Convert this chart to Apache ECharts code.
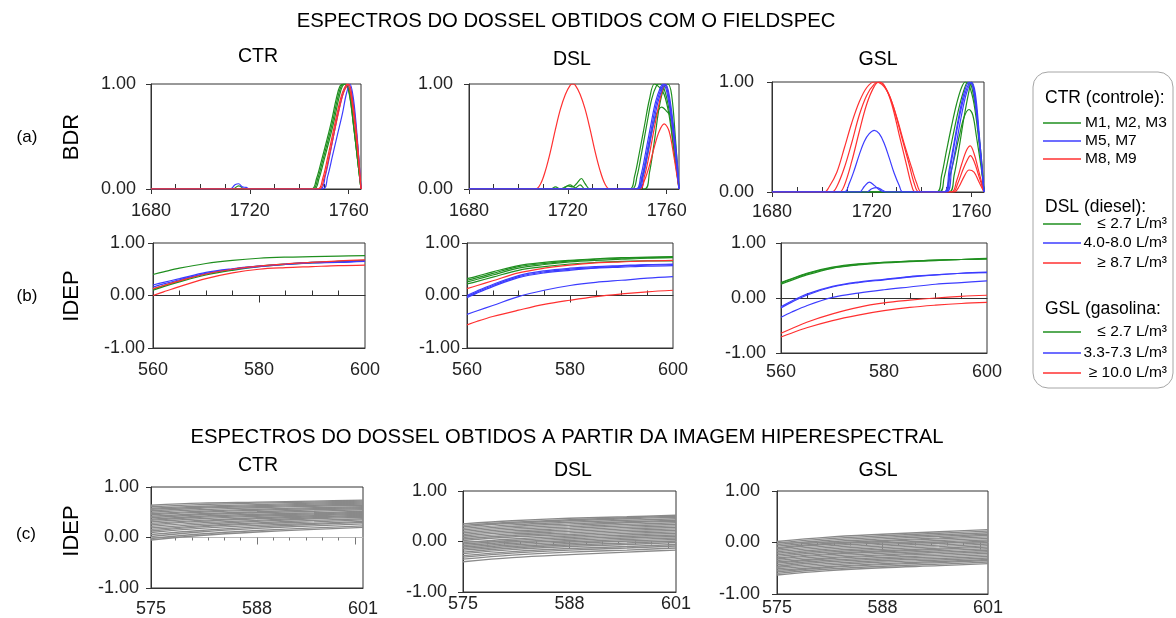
<!DOCTYPE html>
<html><head><meta charset="utf-8">
<script src="https://cdn.jsdelivr.net/npm/echarts@6/dist/echarts.min.js"></script>
<style>html,body{margin:0;padding:0;background:#fff}#c{width:1176px;height:618px}</style>
</head><body><div id="c"></div>
<script>
// ---------- tick labels ----------
const BDR_X_LABELS = [1680, 1720, 1760];
const BDR_X_MINOR = [1690, 1700, 1710, 1730, 1740, 1750];
const FS_X_LABELS = [560, 580, 600];
const FS_X_MINOR = [565, 570, 575, 585, 590, 595];
const FS_X_MAJOR = [580];
const HS_X_LABELS = [575, 588, 601];
const HS_X_MINOR = [578, 580, 582, 584, 586, 590, 592, 594, 596, 598];
const HS_X_MAJOR = [588, 600];

// ---------- (a) BDR, FieldSpec : [wavelength, BDR] ----------
const bdrCtrGreen = [
  [[1680,0],[1745,0],[1747,0.1],[1749,0.27],[1751,0.45],[1753,0.64],[1755,0.86],[1756.5,0.98],[1758,1.0],[1760,0.93],[1762,0.6],[1764,0.2],[1765,0]],
  [[1680,0],[1713,0],[1715.5,0.03],[1718,0],[1745.5,0],[1747.5,0.1],[1749.5,0.27],[1751.5,0.45],[1753.5,0.64],[1755.5,0.86],[1757,0.98],[1758.5,1.0],[1760,0.95],[1762,0.6],[1764,0.2],[1765,0]],
  [[1680,0],[1746,0],[1748,0.1],[1750,0.27],[1752,0.45],[1754,0.64],[1756,0.86],[1757.5,0.98],[1759,1.0],[1760.5,0.93],[1762,0.62],[1764,0.2],[1765,0]]
];
const bdrCtrBlue = [
  [[1680,0],[1749.5,0],[1751.5,0.12],[1753.5,0.32],[1755.5,0.52],[1757.5,0.72],[1759,0.9],[1760.5,1.0],[1762,0.85],[1763.5,0.48],[1765,0]],
  [[1680,0],[1712,0],[1714,0.04],[1715.5,0.05],[1717,0.02],[1718.5,0.015],[1720,0],[1748.5,0],[1750.5,0.12],[1752.5,0.34],[1754.5,0.58],[1756.5,0.8],[1758.5,0.96],[1760,1.0],[1761.5,0.88],[1763.5,0.45],[1765,0]]
];
const bdrCtrRed = [
  [[1680,0],[1747.5,0],[1749.5,0.1],[1751.5,0.3],[1753.5,0.52],[1755.5,0.74],[1757.5,0.92],[1759.5,1.0],[1761,0.88],[1763,0.5],[1765,0]],
  [[1680,0],[1748,0],[1750,0.1],[1752,0.3],[1754,0.52],[1756,0.74],[1758,0.92],[1760,1.0],[1761.5,0.85],[1763.5,0.45],[1765,0]]
];
const bdrDslGreen = [
  [[1680,0],[1745,0],[1747,0.12],[1749,0.35],[1751,0.6],[1753,0.85],[1755,1.0],[1757,0.97],[1759,0.9],[1761,0.7],[1763,0.35],[1765,0]],
  [[1680,0],[1713,0],[1715,0.02],[1717,0],[1719,0.02],[1721,0.04],[1723,0.01],[1725,0.04],[1727,0],[1746,0],[1748,0.12],[1750,0.36],[1752,0.62],[1754,0.86],[1756,0.99],[1757,1.0],[1759,0.95],[1761,0.75],[1763,0.38],[1765,0]],
  [[1680,0],[1718,0],[1720,0.03],[1722,0.02],[1723.5,0.05],[1725.5,0.1],[1727,0.05],[1729,0],[1748,0],[1750,0.1],[1752,0.3],[1754,0.55],[1756,0.72],[1758,0.78],[1760,0.74],[1762,0.68],[1763.5,0.4],[1765,0]],
  [[1680,0],[1751,0],[1753,0.15],[1755,0.45],[1757,0.78],[1759,0.97],[1760.5,1.0],[1762,0.9],[1763.5,0.5],[1765,0]]
];
const bdrDslBlue = [
  [[1680,0],[1747.5,0],[1749.5,0.12],[1751.5,0.35],[1753.5,0.6],[1755.5,0.83],[1757.5,0.97],[1758.5,1.0],[1760,0.93],[1762,0.65],[1764,0.25],[1765,0]],
  [[1680,0],[1748,0],[1750,0.12],[1752,0.35],[1754,0.6],[1756,0.83],[1758,0.97],[1759,1.0],[1760.5,0.92],[1762.5,0.6],[1764,0.25],[1765,0]],
  [[1680,0],[1748.5,0],[1750.5,0.12],[1752.5,0.35],[1754.5,0.6],[1756.5,0.83],[1758.5,0.97],[1759.5,1.0],[1761,0.9],[1763,0.55],[1764.5,0.2],[1765,0]]
];
const bdrDslRed = [
  [[1680,0],[1707,0],[1709,0.05],[1711,0.18],[1713,0.36],[1715,0.57],[1717,0.76],[1719,0.9],[1721,0.99],[1722,1.0],[1723,0.99],[1725,0.9],[1727,0.76],[1729,0.57],[1731,0.36],[1733,0.18],[1735,0.05],[1737,0],[1749,0],[1751,0.08],[1753,0.22],[1755,0.4],[1757,0.55],[1759,0.62],[1761,0.55],[1763,0.3],[1765,0]],
  [[1680,0],[1749,0],[1751,0.12],[1753,0.33],[1755,0.58],[1757,0.82],[1758.5,0.96],[1759.5,1.0],[1761,0.85],[1763,0.45],[1765,0]]
];
const bdrGslGreen = [
  [[1680,0],[1746,0],[1748,0.15],[1750,0.38],[1752,0.6],[1754,0.8],[1756,0.95],[1757.5,1.0],[1759,0.97],[1761,0.8],[1763,0.45],[1765,0]],
  [[1680,0],[1747,0],[1749,0.13],[1751,0.34],[1753,0.56],[1755,0.77],[1757,0.93],[1758.5,1.0],[1760,0.96],[1762,0.7],[1764,0.3],[1765,0]],
  [[1680,0],[1749,0],[1751,0.12],[1753,0.3],[1755,0.5],[1757,0.68],[1759,0.75],[1760.5,0.7],[1762,0.5],[1764,0.2],[1765,0]],
  [[1680,0],[1751,0],[1753,0.15],[1755,0.4],[1757,0.68],[1759,0.92],[1760,1.0],[1761.5,0.85],[1763,0.5],[1765,0]]
];
const bdrGslBlue = [
  [[1680,0],[1709,0],[1711,0.08],[1713,0.2],[1715,0.34],[1717,0.46],[1719,0.53],[1721,0.56],[1723,0.53],[1725,0.44],[1727,0.31],[1729,0.17],[1731,0.06],[1732.5,0],[1749,0],[1751,0.2],[1753,0.45],[1755,0.7],[1757,0.9],[1759,1.0],[1760.5,0.96],[1762.5,0.6],[1764,0.25],[1765,0]],
  [[1680,0],[1715,0],[1717,0.05],[1719,0.09],[1721,0.06],[1723,0.02],[1725,0],[1749.5,0],[1751.5,0.22],[1753.5,0.48],[1755.5,0.72],[1757.5,0.9],[1759.5,1.0],[1761,0.92],[1763,0.5],[1765,0]],
  [[1680,0],[1718,0],[1720,0.03],[1722,0.04],[1724,0.02],[1726,0],[1750,0],[1752,0.2],[1754,0.45],[1756,0.7],[1758,0.9],[1760,1.0],[1761.5,0.9],[1763,0.55],[1765,0]]
];
const bdrGslRed = [
  [[1680,0],[1701,0],[1703,0.05],[1706,0.18],[1709,0.4],[1712,0.63],[1715,0.82],[1718,0.95],[1721,1.0],[1724,0.98],[1727,0.88],[1730,0.68],[1733,0.44],[1736,0.22],[1738,0.08],[1740,0],[1752,0],[1754,0.1],[1756,0.25],[1758,0.38],[1759.5,0.42],[1761,0.35],[1763,0.18],[1765,0]],
  [[1680,0],[1704,0],[1706,0.05],[1709,0.22],[1712,0.45],[1715,0.7],[1718,0.88],[1721,0.98],[1723,1.0],[1726,0.93],[1729,0.75],[1732,0.5],[1735,0.25],[1737,0.08],[1739,0],[1752.5,0],[1754.5,0.08],[1756.5,0.2],[1758.5,0.3],[1759.5,0.33],[1761,0.28],[1763,0.14],[1765,0]],
  [[1680,0],[1707,0],[1709,0.06],[1712,0.28],[1715,0.55],[1718,0.8],[1721,0.96],[1723,1.0],[1725,0.97],[1728,0.8],[1731,0.52],[1734,0.24],[1736,0.06],[1737.5,0],[1753,0],[1755,0.05],[1757,0.14],[1759,0.2],[1761,0.18],[1763,0.09],[1765,0]]
];

// ---------- (b) IDEP, FieldSpec ----------
const FS_X = [560, 562, 565, 570, 575, 580, 585, 590, 595, 600];
const idepCtrGreen = [
  [0.40,0.45,0.52,0.61,0.67,0.71,0.73,0.74,0.75,0.76],
  [0.12,0.19,0.28,0.41,0.50,0.56,0.60,0.63,0.65,0.67],
  [0.10,0.17,0.26,0.39,0.48,0.55,0.59,0.62,0.64,0.66]
];
const idepCtrBlue = [
  [0.20,0.25,0.32,0.44,0.51,0.56,0.60,0.63,0.64,0.66],
  [0.16,0.22,0.30,0.42,0.50,0.55,0.59,0.62,0.63,0.65]
];
const idepCtrRed = [
  [0.13,0.19,0.28,0.41,0.50,0.56,0.60,0.63,0.66,0.68],
  [0.00,0.07,0.17,0.32,0.43,0.50,0.53,0.55,0.57,0.58]
];
const idepDslGreen = [
  [0.32,0.37,0.45,0.57,0.63,0.67,0.70,0.72,0.73,0.74],
  [0.29,0.34,0.42,0.55,0.61,0.66,0.69,0.71,0.72,0.73],
  [0.26,0.31,0.39,0.52,0.59,0.64,0.67,0.69,0.71,0.72],
  [0.22,0.27,0.35,0.48,0.55,0.60,0.63,0.65,0.66,0.66]
];
const idepDslBlue = [
  [-0.02,0.07,0.19,0.36,0.45,0.50,0.53,0.56,0.58,0.59],
  [-0.04,0.05,0.17,0.34,0.43,0.48,0.52,0.54,0.56,0.57],
  [0.00,0.09,0.21,0.38,0.47,0.52,0.55,0.57,0.59,0.60],
  [-0.36,-0.29,-0.19,-0.02,0.10,0.19,0.25,0.29,0.33,0.36]
];
const idepDslRed = [
  [0.13,0.19,0.28,0.43,0.52,0.58,0.62,0.64,0.66,0.67],
  [-0.56,-0.49,-0.40,-0.28,-0.17,-0.09,-0.02,0.03,0.07,0.10]
];
const idepGslGreen = [
  [0.28,0.35,0.45,0.56,0.62,0.65,0.67,0.69,0.70,0.71],
  [0.25,0.32,0.42,0.54,0.60,0.64,0.66,0.68,0.70,0.71],
  [0.27,0.34,0.44,0.55,0.61,0.65,0.67,0.69,0.70,0.72]
];
const idepGslBlue = [
  [-0.18,-0.08,0.05,0.20,0.28,0.33,0.38,0.42,0.45,0.47],
  [-0.16,-0.06,0.07,0.21,0.29,0.34,0.39,0.42,0.45,0.46],
  [-0.35,-0.26,-0.14,0.01,0.09,0.15,0.20,0.25,0.28,0.31]
];
const idepGslRed = [
  [-0.64,-0.56,-0.44,-0.29,-0.17,-0.09,-0.04,0.00,0.03,0.05],
  [-0.71,-0.64,-0.54,-0.41,-0.31,-0.23,-0.17,-0.13,-0.10,-0.08]
];

// ---------- (c) IDEP, hyperspectral image ----------
const HS_X = [575, 581, 588, 595, 601];
const hsCtr = [
  [0.64,0.68,0.70,0.72,0.74],[0.61,0.65,0.68,0.70,0.72],[0.58,0.62,0.65,0.68,0.70],[0.56,0.60,0.63,0.66,0.68],
  [0.53,0.58,0.61,0.64,0.66],[0.50,0.55,0.59,0.62,0.64],[0.47,0.52,0.56,0.59,0.61],[0.45,0.50,0.54,0.57,0.59],
  [0.42,0.47,0.51,0.55,0.57],[0.39,0.45,0.49,0.52,0.55],[0.36,0.42,0.46,0.49,0.52],[0.34,0.40,0.44,0.47,0.50],
  [0.31,0.37,0.42,0.45,0.48],[0.28,0.34,0.39,0.43,0.46],[0.25,0.32,0.37,0.41,0.44],[0.22,0.29,0.34,0.39,0.42],
  [0.19,0.26,0.32,0.37,0.40],[0.16,0.23,0.29,0.34,0.37],[0.13,0.21,0.27,0.31,0.35],[0.10,0.18,0.24,0.28,0.32],
  [0.06,0.14,0.21,0.26,0.30],[0.02,0.11,0.18,0.23,0.27],[-0.02,0.07,0.14,0.19,0.23],[-0.05,0.04,0.11,0.16,0.20]
];
const hsDsl = [
  [0.35,0.41,0.46,0.49,0.52],[0.32,0.38,0.43,0.47,0.50],[0.29,0.36,0.41,0.45,0.48],[0.26,0.33,0.38,0.42,0.45],
  [0.23,0.30,0.35,0.39,0.42],[0.20,0.27,0.32,0.37,0.40],[0.17,0.24,0.29,0.34,0.37],[0.14,0.21,0.26,0.31,0.34],
  [0.11,0.18,0.23,0.28,0.31],[0.08,0.15,0.20,0.25,0.28],[0.05,0.12,0.17,0.22,0.25],[0.02,0.09,0.14,0.19,0.22],
  [-0.02,0.05,0.11,0.16,0.19],[-0.05,0.02,0.08,0.13,0.16],[-0.08,-0.01,0.05,0.10,0.13],[-0.11,-0.04,0.02,0.07,0.10],
  [-0.14,-0.07,-0.01,0.04,0.07],[-0.17,-0.10,-0.04,0.01,0.04],[-0.21,-0.13,-0.07,-0.03,0.01],[-0.24,-0.16,-0.10,-0.06,-0.02],
  [-0.28,-0.20,-0.14,-0.10,-0.06],[-0.31,-0.23,-0.17,-0.13,-0.09],[-0.35,-0.27,-0.21,-0.17,-0.13],[-0.40,-0.32,-0.26,-0.21,-0.17]
];
const hsGsl = [
  [0.02,0.10,0.16,0.21,0.25],[-0.01,0.07,0.13,0.18,0.22],[-0.04,0.04,0.10,0.15,0.19],[-0.07,0.01,0.07,0.12,0.16],
  [-0.10,-0.02,0.04,0.09,0.14],[-0.12,-0.04,0.02,0.07,0.11],[-0.15,-0.07,-0.01,0.04,0.08],[-0.18,-0.10,-0.04,0.01,0.05],
  [-0.21,-0.13,-0.07,-0.02,0.03],[-0.24,-0.16,-0.10,-0.05,0.00],[-0.27,-0.19,-0.13,-0.08,-0.03],[-0.30,-0.22,-0.16,-0.11,-0.06],
  [-0.32,-0.24,-0.18,-0.13,-0.09],[-0.35,-0.27,-0.21,-0.16,-0.12],[-0.38,-0.30,-0.24,-0.19,-0.15],[-0.40,-0.32,-0.26,-0.22,-0.18],
  [-0.43,-0.35,-0.29,-0.25,-0.21],[-0.46,-0.38,-0.32,-0.28,-0.24],[-0.48,-0.41,-0.35,-0.31,-0.27],[-0.51,-0.44,-0.38,-0.34,-0.30],
  [-0.54,-0.47,-0.41,-0.37,-0.33],[-0.57,-0.49,-0.43,-0.39,-0.35],[-0.60,-0.52,-0.46,-0.42,-0.38],[-0.63,-0.55,-0.49,-0.45,-0.41]
];

// ---------- texts ----------
const TITLE_1 = 'ESPECTROS DO DOSSEL OBTIDOS COM O FIELDSPEC';
const TITLE_2 = 'ESPECTROS DO DOSSEL OBTIDOS A PARTIR DA IMAGEM HIPERESPECTRAL';
const GROUPS = ['CTR', 'DSL', 'GSL'];
const LEGEND_CTR = ['M1, M2, M3', 'M5, M7', 'M8, M9'];
const LEGEND_DSL = ['≤ 2.7 L/m³', '4.0-8.0 L/m³', '≥ 8.7 L/m³'];
const LEGEND_GSL = ['≤ 2.7 L/m³', '3.3-7.3 L/m³', '≥ 10.0 L/m³'];

// ---------- styling ----------
const FONT = '"Liberation Sans", Arial, sans-serif';
const GREEN = '#1f8f1f', BLUE = '#3c3cff', RED = '#ff3030', GRAY = '#8a8a8a';
const AXIS = '#333', LABEL = '#222';

const grid = [], xAxis = [], yAxis = [], series = [];

function panel(p) {
  const gi = grid.length;
  grid.push({left: p.box[0], top: p.box[1], width: p.box[2], height: p.box[3], show: true,
    borderColor: AXIS, borderWidth: 1, backgroundColor: 'transparent'});
  const yi = yAxis.length;
  yAxis.push({type: 'value', gridIndex: gi, min: p.kind === 'a' ? 0 : -1, max: 1, interval: 1,
    axisLine: {show: true, onZero: false, lineStyle: {color: AXIS, width: 1}},
    axisTick: {show: true, length: 5, lineStyle: {color: AXIS}},
    axisLabel: {margin: p.yMargin, fontSize: 18, color: LABEL, fontFamily: FONT, formatter: v => v.toFixed(2)},
    splitLine: {show: false}});
  const xa = xAxis.length;
  xAxis.push({type: 'value', gridIndex: gi, position: 'bottom', min: p.xmin, max: p.xmax,
    axisLine: {show: true, onZero: false, lineStyle: {color: AXIS, width: 1}},
    axisTick: {show: p.kind === 'a', customValues: p.labels, length: 5, lineStyle: {color: AXIS}},
    axisLabel: {customValues: p.labels, margin: p.xMargin, fontSize: 18, color: LABEL, fontFamily: FONT,
      formatter: v => String(v)},
    splitLine: {show: false}});
  if (p.kind === 'a') {
    xAxis.push({type: 'value', gridIndex: gi, position: 'bottom', min: p.xmin, max: p.xmax,
      axisLine: {show: false, onZero: false},
      axisTick: {show: true, inside: true, customValues: p.minor, length: 5, lineStyle: {color: AXIS}},
      axisLabel: {show: false}, splitLine: {show: false}});
  } else {
    const zc = p.kind === 'b' ? AXIS : '#b5b5b5';
    const tc = p.kind === 'b' ? AXIS : '#777';
    xAxis.push({type: 'value', gridIndex: gi, position: 'bottom', min: p.xmin, max: p.xmax,
      axisLine: {show: true, onZero: true, onZeroAxisIndex: yi, lineStyle: {color: zc, width: 1}},
      axisTick: {show: true, inside: p.kind === 'b', customValues: p.minor, length: p.kind === 'b' ? 5 : 3, lineStyle: {color: tc}},
      axisLabel: {show: false}, splitLine: {show: false}});
    xAxis.push({type: 'value', gridIndex: gi, position: 'bottom', min: p.xmin, max: p.xmax,
      axisLine: {show: false, onZero: true, onZeroAxisIndex: yi},
      axisTick: {show: true, inside: false, customValues: p.major, length: 7, lineStyle: {color: tc}},
      axisLabel: {show: false}, splitLine: {show: false}});
  }
  p.lines.forEach(([color, sets, xs]) => {
    sets.forEach(s => {
      const data = xs ? xs.map((x, i) => [x, s[i]]) : s;
      series.push({type: 'line', xAxisIndex: xa, yAxisIndex: yi, data, showSymbol: false, symbol: 'none',
        smooth: 0.35, silent: true, lineStyle: {color, width: p.kind === 'c' ? 1.4 : 1.2}});
    });
  });
}

const A = {kind: 'a', xmin: 1680, xmax: 1765, labels: BDR_X_LABELS, minor: BDR_X_MINOR};
const B = {kind: 'b', xmin: 560, xmax: 600, labels: FS_X_LABELS, minor: FS_X_MINOR, major: FS_X_MAJOR};
const C = {kind: 'c', xmin: 575, xmax: 601, labels: HS_X_LABELS, minor: HS_X_MINOR, major: HS_X_MAJOR};

panel(Object.assign({}, A, {box: [151, 84, 210, 105], yMargin: 15, xMargin: 13,
  lines: [[GREEN, bdrCtrGreen], [BLUE, bdrCtrBlue], [RED, bdrCtrRed]]}));
panel(Object.assign({}, A, {box: [469, 84, 210, 105], yMargin: 16, xMargin: 13,
  lines: [[GREEN, bdrDslGreen], [RED, bdrDslRed], [BLUE, bdrDslBlue]]}));
panel(Object.assign({}, A, {box: [772, 82, 212, 110], yMargin: 18, xMargin: 11,
  lines: [[GREEN, bdrGslGreen], [RED, bdrGslRed], [BLUE, bdrGslBlue]]}));
panel(Object.assign({}, B, {box: [153, 243, 212, 105], yMargin: 8, xMargin: 13,
  lines: [[GREEN, idepCtrGreen, FS_X], [BLUE, idepCtrBlue, FS_X], [RED, idepCtrRed, FS_X]]}));
panel(Object.assign({}, B, {box: [467, 243, 206, 105], yMargin: 7, xMargin: 13,
  lines: [[GREEN, idepDslGreen, FS_X], [BLUE, idepDslBlue, FS_X], [RED, idepDslRed, FS_X]]}));
panel(Object.assign({}, B, {box: [781, 243, 206, 110], yMargin: 15, xMargin: 10,
  lines: [[GREEN, idepGslGreen, FS_X], [BLUE, idepGslBlue, FS_X], [RED, idepGslRed, FS_X]]}));
panel(Object.assign({}, C, {box: [151, 487, 212, 101], yMargin: 12, xMargin: 12,
  lines: [[GRAY, hsCtr, HS_X]]}));
panel(Object.assign({}, C, {box: [463, 491, 213, 101], yMargin: 16, xMargin: 3,
  lines: [[GRAY, hsDsl, HS_X]]}));
panel(Object.assign({}, C, {box: [777, 491, 211, 103], yMargin: 17, xMargin: 5,
  lines: [[GRAY, hsGsl, HS_X]]}));

// ---------- free texts & legend ----------
function txt(x, y, text, size, opts) {
  return Object.assign({type: 'text', x, y, silent: true,
    style: Object.assign({text, fontSize: size, fontFamily: FONT, fill: '#000',
      textAlign: 'center', textVerticalAlign: 'middle'}, (opts && opts.style) || {})},
    opts && opts.rotation ? {rotation: opts.rotation} : {});
}
const graphic = [];
graphic.push(txt(566, 21, TITLE_1, 20.3));
graphic.push(txt(567, 437, TITLE_2, 20.3));
[[258, 57], [572, 60], [878, 60]].forEach((p, i) => graphic.push(txt(p[0], p[1], GROUPS[i], 19.5)));
[[258, 466], [573, 471], [878, 471]].forEach((p, i) => graphic.push(txt(p[0], p[1], GROUPS[i], 19.5)));
graphic.push(txt(27, 137, '(a)', 17));
graphic.push(txt(27, 296, '(b)', 17));
graphic.push(txt(26, 534, '(c)', 17));
graphic.push(txt(72, 137, 'BDR', 22, {rotation: Math.PI / 2}));
graphic.push(txt(72, 296, 'IDEP', 22, {rotation: Math.PI / 2}));
graphic.push(txt(72, 531, 'IDEP', 22, {rotation: Math.PI / 2}));

graphic.push({type: 'rect', silent: true, shape: {x: 1033, y: 72, width: 140, height: 316, r: 15},
  style: {fill: '#fff', stroke: '#a6a6a6', lineWidth: 1}});
const LCOL = [GREEN, BLUE, RED];
function legendGroup(headY, head, items, itemYs, rightAlign) {
  graphic.push(txt(1045, headY, head, 17.5, {style: {textAlign: 'left'}}));
  items.forEach((t, i) => {
    graphic.push({type: 'line', silent: true, shape: {x1: 1043, y1: itemYs[i], x2: 1081, y2: itemYs[i]},
      style: {stroke: LCOL[i], lineWidth: 1.5}});
    graphic.push(rightAlign ? txt(1167, itemYs[i], t, 15.5, {style: {textAlign: 'right'}})
                            : txt(1085, itemYs[i], t, 15.5, {style: {textAlign: 'left'}}));
  });
}
legendGroup(98, 'CTR (controle):', LEGEND_CTR, [123, 141, 159], false);
legendGroup(207, 'DSL (diesel):', LEGEND_DSL, [224, 243, 263], true);
legendGroup(309, 'GSL (gasolina:', LEGEND_GSL, [332, 353, 373], true);

const chart = echarts.init(document.getElementById('c'));
chart.setOption({animation: false, backgroundColor: '#fff', grid, xAxis, yAxis, series, graphic});
</script></body></html>
